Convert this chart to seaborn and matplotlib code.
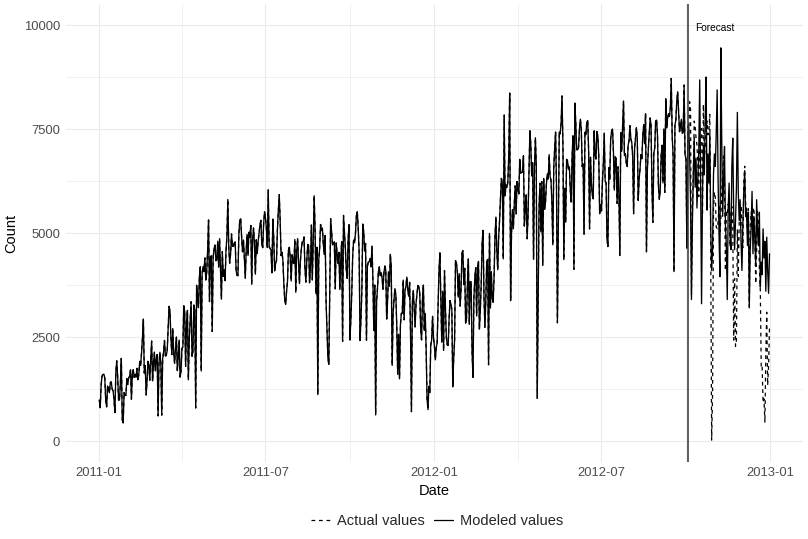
import matplotlib
matplotlib.use("Agg")
import matplotlib.pyplot as plt
import matplotlib.dates as mdates
from matplotlib.lines import Line2D
import numpy as np
import pandas as pd
import seaborn as sns

# ---------------- data (daily counts) ----------------
start_date = "2011-01-01"
forecast_start = "2012-10-03"

cnt_2011 = [
    985, 801, 1349, 1562, 1600, 1606, 1510, 959, 822, 1321, 1263, 1162, 1406, 1421, 1248, 1204, 1000, 683, 1650, 1927, 1543, 981, 986, 1416, 1985, 506, 431, 1167, 1098, 1096, 1501,
    1360, 1526, 1550, 1708, 1005, 1623, 1712, 1530, 1605, 1538, 1746, 1472, 1589, 1913, 1815, 2115, 2475, 2927, 1635, 1812, 1107, 1450, 1917, 1807, 1461, 1969, 2402, 1446,
    1851, 2134, 1685, 1944, 2077, 605, 1872, 2133, 1891, 623, 1977, 2132, 2417, 2046, 2056, 2192, 2744, 3239, 3117, 2471, 2077, 2703, 2121, 1865, 2210, 2496, 1693, 2028, 2425, 1536, 1685,
    2227, 2252, 3249, 3115, 1795, 2808, 3141, 1471, 2455, 2895, 3348, 2034, 2162, 3267, 3126, 795, 3744, 3429, 3204, 3944, 4189, 1683, 4036, 4191, 4073, 4400, 3872, 4058, 4595, 5312,
    3351, 4401, 4451, 2633, 4433, 4608, 4714, 4333, 4362, 4803, 4182, 4864, 4105, 3409, 4553, 3958, 4123, 3855, 4575, 4917, 5805, 4660, 4274, 4492, 4978, 4677, 4679, 4758, 4788, 4098, 3982,
    3974, 4968, 5312, 5342, 4906, 4548, 4833, 4401, 3915, 4586, 4966, 4460, 5020, 4891, 5180, 3767, 4844, 5119, 4744, 4010, 4835, 4507, 4790, 4991, 5202, 5305, 4708, 4648, 5225, 5515,
    5362, 5119, 4649, 6043, 4665, 4629, 4592, 4040, 5336, 4881, 4086, 4258, 4342, 5084, 5538, 5923, 5302, 4458, 4541, 4332, 3784, 3387, 3285, 3606, 3840, 4590, 4656, 4390, 3846, 4475, 4302,
    4266, 4845, 3574, 4576, 4866, 4294, 3785, 4326, 4602, 4780, 4792, 4905, 4150, 3820, 4338, 4725, 4694, 3805, 4153, 5191, 3873, 4758, 5895, 5130, 3542, 4661, 1115, 4334, 4634, 5204, 5058,
    5115, 4727, 4484, 4940, 3351, 2710, 1996, 1842, 3544, 5345, 5046, 4713, 4763, 4785, 3659, 4760, 4511, 4274, 4539, 3641, 4352, 4795, 2395, 5423, 5010, 4630, 4120, 3907, 4839, 5202,
    2429, 2918, 3570, 4456, 4826, 4765, 4985, 5409, 5511, 5117, 4563, 2416, 2913, 3644, 5217, 5041, 4570, 4748, 2424, 4195, 4304, 4308, 4381, 4187, 4687, 3894, 2659, 3747, 627, 3331, 3669,
    4068, 4186, 3974, 4046, 3926, 3649, 4035, 4205, 4109, 2933, 3368, 4067, 3717, 4486, 4195, 1817, 3053, 3392, 3663, 3520, 2765, 1607, 2566, 1495, 2792, 3068, 3071, 3867, 2914, 3613,
    3727, 3940, 3614, 3485, 3811, 2594, 705, 3322, 3620, 3190, 2743, 3310, 3523, 3740, 3709, 3577, 2739, 2431, 3403, 3750, 2660, 3068, 2209, 1011, 754, 1317, 1162, 2302, 2423, 2999, 2485,
]

cnt_2012 = [
    2294, 1951, 2236, 2368, 3272, 4098, 4521, 3425, 2376, 3598, 2177, 4097, 3214, 2493, 2311, 2298, 2935, 3376, 3292, 3163, 1301, 1977, 2432, 4339, 4270, 4075, 3456, 4023, 3243, 3624, 4509,
    4579, 3761, 4151, 2832, 2947, 3784, 4375, 2802, 3830, 3831, 2169, 1529, 3422, 3922, 4169, 3005, 4154, 4318, 2689, 3129, 3777, 4773, 5062, 3487, 2732, 3389, 4322, 4363, 1834,
    4990, 3194, 4066, 3423, 3333, 3956, 4916, 5382, 4569, 4118, 4911, 5298, 5847, 6312, 6192, 4378, 7836, 5892, 6153, 6093, 6230, 6871, 8362, 3372, 4996, 5558, 5102, 5698, 6133, 5459, 6235,
    6041, 5936, 6772, 6436, 6457, 6460, 6857, 5169, 5585, 5918, 4862, 5409, 6398, 7460, 7132, 6370, 6691, 4367, 6565, 7290, 6624, 1027, 3214, 5633, 6196, 5026, 6233, 4220, 6304, 5572,
    5740, 6169, 6421, 6296, 6883, 6359, 6273, 5728, 4717, 6572, 7030, 7429, 6118, 2843, 5115, 7424, 7384, 7639, 8294, 7129, 4359, 6073, 5260, 6770, 6734, 6536, 6591, 6043, 5743, 6855, 7338,
    4127, 8120, 7641, 6998, 7001, 7055, 7494, 7736, 7498, 6598, 6664, 4972, 7421, 7363, 7665, 7702, 6978, 5099, 6825, 6211, 5905, 5823, 7458, 6891, 6779, 7442, 7335, 6879, 5463, 5687,
    5531, 6227, 6660, 7403, 6241, 6207, 4840, 4672, 6569, 6290, 7264, 7446, 7499, 6969, 6031, 6830, 6786, 5713, 6591, 5870, 4459, 7410, 6966, 7592, 8173, 6861, 6904, 6685, 6597, 7105, 7216,
    7580, 7261, 7175, 6824, 5464, 7013, 7273, 7534, 7286, 5786, 6299, 6544, 6883, 6784, 7347, 7605, 7148, 7865, 4549, 6530, 7006, 7375, 7765, 7582, 6053, 5255, 6917, 7040, 7697, 7713, 7350,
    6140, 5810, 6034, 6864, 7112, 6203, 7504, 5976, 8227, 7525, 7767, 7870, 7804, 8009, 8714, 7333, 6869, 4073, 7591, 7720, 8167, 8395, 7907, 7436, 7538, 7733, 7393, 7415, 8555, 6889,
    6778, 4639, 7572, 7328, 8156, 7965, 3510, 5478, 6392, 7691, 7570, 7282, 7109, 6639, 5875, 7534, 7461, 7509, 5424, 8090, 6824, 7058, 7466, 7693, 7359, 7444, 7852, 4459, 22, 1096, 5566,
    5986, 5847, 5138, 5107, 5259, 5686, 5035, 5315, 5992, 6536, 6852, 6269, 4094, 5495, 5445, 5698, 5629, 4669, 5499, 5634, 5146, 2425, 3910, 2277, 2424, 5087, 3959, 5260, 5323, 5668,
    5191, 4649, 6234, 6606, 5729, 5375, 5008, 5582, 3228, 5170, 5501, 5319, 5532, 5611, 5047, 3786, 4585, 5557, 5267, 4128, 3623, 1749, 1787, 920, 1013, 441, 2114, 3095, 1341, 1796, 2729,
]

# modeled values over the forecast window (2012-10-03 .. 2012-12-31), estimated from the chart
forecast_pred = [
    7200, 7600, 6900, 5800, 3400, 5200, 6400, 7300, 6100, 6800,
    5600, 6300, 7000, 8680, 6200, 3300, 5900, 7100, 6400, 7800,
    8750, 5550, 6900, 6200, 7400, 5100, 4100, 4600, 6400, 6900,
    6600, 7400, 8440, 6300, 5000, 3950, 9450, 7200, 5400, 6300,
    7080, 5200, 4700, 3400, 5600, 6200, 5000, 4600, 6600, 7280,
    5500, 4600, 5300, 6100, 7900, 6000, 5300, 5800, 4800, 4100,
    5200, 6000, 6500, 5400, 5600, 4700, 5500, 3200, 4600, 5100,
    6000, 4500, 5400, 4900, 4200, 5800, 5000, 4700, 5500, 3700,
    4300, 4000, 5100, 4400, 4800, 3600, 4900, 4100, 3550, 4500,
]

annotation_label = "Forecast"
annotation_y = 9930
legend_labels = ["Actual values", "Modeled values"]

# ---------------- build frame ----------------
actual = np.array(cnt_2011 + cnt_2012, dtype=float)
dates = pd.date_range(start_date, periods=len(actual), freq="D")
n_train = int((pd.Timestamp(forecast_start) - pd.Timestamp(start_date)).days)
modeled = np.concatenate([actual[:n_train], np.array(forecast_pred, dtype=float)])
df = pd.DataFrame({"Date": dates, "Actual": actual, "Modeled": modeled})

# ---------------- style ----------------
sns.set_theme(style="white")
plt.rcParams["font.family"] = ["Liberation Sans", "DejaVu Sans"]

W, H = 808, 539
fig = plt.figure(figsize=(W / 100, H / 100), dpi=100)
ax = fig.add_axes([65.8 / W, 1 - 461.8 / H, (803 - 65.8) / W, (461.8 - 4.2) / H])

sns.lineplot(data=df, x="Date", y="Actual", ax=ax, color="black", lw=0.9,
             dashes=False, linestyle=(0, (3, 3)), zorder=2)
sns.lineplot(data=df, x="Date", y="Modeled", ax=ax, color="black", lw=0.95, zorder=3)

ax.axvline(pd.Timestamp(forecast_start), color="#333333", lw=1.1, zorder=4)
ax.text(pd.Timestamp("2012-11-01"), annotation_y, annotation_label, ha="center",
        va="center", fontsize=7.3, color="black", zorder=5)

# limits (ggplot-style 5% expansion)
d0, d1 = dates[0], dates[-1]
span = (d1 - d0).days
pad = pd.Timedelta(days=span * 0.05)
ax.set_xlim(d0 - pad, d1 + pad)
ax.set_ylim(-500, 10500)

# ticks & grid
ax.xaxis.set_major_locator(mdates.MonthLocator(bymonth=[1, 7]))
ax.xaxis.set_minor_locator(mdates.MonthLocator(bymonth=[4, 10]))
ax.xaxis.set_major_formatter(mdates.DateFormatter("%Y-%m"))
ax.set_yticks([0, 2500, 5000, 7500, 10000])
ax.set_yticks([1250, 3750, 6250, 8750], minor=True)
ax.yaxis.set_major_formatter(matplotlib.ticker.FuncFormatter(lambda v, p: f"{int(v)}"))

ax.grid(which="major", color="#EBEBEB", lw=0.8, zorder=0)
ax.grid(which="minor", color="#EBEBEB", lw=0.5, zorder=0)
ax.set_axisbelow(True)
for s in ax.spines.values():
    s.set_visible(False)
ax.tick_params(axis="both", which="both", length=0, labelsize=9.4, labelcolor="#4D4D4D")
ax.tick_params(axis="x", pad=4)
ax.tick_params(axis="y", pad=4)

ax.set_xlabel("Date", fontsize=10.5, color="black", labelpad=3)
ax.set_ylabel("Count", fontsize=10.5, color="black", labelpad=4)

handles = [
    Line2D([], [], color="black", lw=0.9, linestyle=(0, (3, 3))),
    Line2D([], [], color="black", lw=0.9),
]
fig.legend(handles, legend_labels, loc="center", bbox_to_anchor=(437 / W, 1 - 521 / H),
           ncol=2, frameon=False, fontsize=10.5, handlelength=1.3, handletextpad=0.5,
           columnspacing=0.6)

fig.savefig("out.png", dpi=100)
